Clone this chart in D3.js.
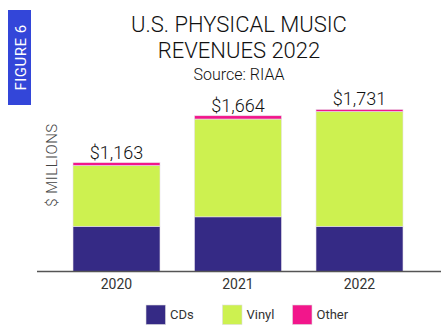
<!DOCTYPE html>
<html>
<head>
<meta charset="utf-8">
<script src="https://cdn.jsdelivr.net/npm/d3@7"></script>
<style>
  body { margin: 0; background: #fff; }
  svg { display: block; font-family: Roboto, "DejaVu Sans", sans-serif; }
</style>
</head>
<body>
<svg id="chart" width="445" height="332"></svg>
<script>
// revenue in $ millions, stacked bottom to top: CDs, Vinyl, Other
const years = ["2020", "2021", "2022"];
const cds = [483, 584, 483];
const vinyl = [650, 1045, 1227];
const other = [30, 35, 21];
const totals = [1163, 1664, 1731];
const seriesNames = ["CDs", "Vinyl", "Other"];

const colors = { CDs: "#352a85", Vinyl: "#cdf150", Other: "#f2168b" };

const rows = years.map((y, i) => ({ year: y, CDs: cds[i], Vinyl: vinyl[i], Other: other[i], total: totals[i] }));

const svg = d3.select("#chart");

const x = d3.scaleBand()
    .domain(years)
    .range([55.75, 420.25])
    .paddingInner(0.284)
    .paddingOuter(0.142);

const y = d3.scaleLinear()
    .domain([0, 2000])
    .range([271.5, 84.3]);

// side tab
svg.append("rect")
    .attr("x", 8).attr("y", 10)
    .attr("width", 23).attr("height", 95)
    .attr("fill", "#3346d9");
svg.append("text")
    .attr("transform", "translate(25.5,57.5) rotate(-90)")
    .attr("text-anchor", "middle")
    .attr("fill", "#fff")
    .attr("font-size", 15)
    .attr("letter-spacing", 0.5)
    .text("FIGURE 6");

// title
const title = svg.append("g")
    .attr("fill", "#111")
    .attr("font-weight", 300)
    .attr("text-anchor", "middle");
title.append("text").attr("x", 239).attr("y", 32).attr("font-size", 22).text("U.S. PHYSICAL MUSIC");
title.append("text").attr("x", 239).attr("y", 58).attr("font-size", 22).text("REVENUES 2022");
title.append("text").attr("x", 239).attr("y", 80).attr("font-size", 16).text("Source: RIAA");

// stacked bars
const stack = d3.stack().keys(seriesNames)(rows);

svg.append("g")
  .selectAll("g")
  .data(stack)
  .join("g")
    .attr("fill", d => colors[d.key])
  .selectAll("rect")
  .data(d => d)
  .join("rect")
    .attr("x", d => x(d.data.year))
    .attr("width", x.bandwidth())
    .attr("y", d => y(d[1]))
    .attr("height", d => y(d[0]) - y(d[1]))
    .attr("stroke", "#e6e0ec")
    .attr("stroke-width", 0.6);

// totals above bars
svg.append("g")
  .selectAll("text")
  .data(rows)
  .join("text")
    .attr("x", d => x(d.year) + x.bandwidth() / 2)
    .attr("y", d => y(d.total) - 4)
    .attr("text-anchor", "middle")
    .attr("font-size", 18)
    .attr("font-weight", 300)
    .attr("fill", "#111")
    .text(d => d3.format("$,")(d.total));

// baseline + year labels
svg.append("line")
    .attr("x1", 37).attr("x2", 441)
    .attr("y1", y(0)).attr("y2", y(0))
    .attr("stroke", "#555")
    .attr("stroke-width", 1.5);

svg.append("g")
  .selectAll("text")
  .data(years)
  .join("text")
    .attr("x", d => x(d) + x.bandwidth() / 2)
    .attr("y", 288.5)
    .attr("text-anchor", "middle")
    .attr("font-size", 14)
    .attr("fill", "#333")
    .text(d => d);

// y axis title
svg.append("text")
    .attr("transform", "translate(57,165) rotate(-90)")
    .attr("text-anchor", "middle")
    .attr("font-size", 15)
    .attr("font-weight", 300)
    .attr("fill", "#444")
    .attr("letter-spacing", 0.5)
    .text("$ MILLIONS");

// legend
const legendX = [146, 222.5, 292.5];
const legend = svg.append("g")
  .selectAll("g")
  .data(seriesNames)
  .join("g")
    .attr("transform", (d, i) => `translate(${legendX[i]},305)`);
legend.append("rect")
    .attr("width", 19.5).attr("height", 19.5)
    .attr("fill", d => colors[d])
    .attr("stroke", "#ddd")
    .attr("stroke-width", 0.6);
legend.append("text")
    .attr("x", 24).attr("y", 14)
    .attr("font-size", 13)
    .attr("fill", "#333")
    .text(d => d);
</script>
</body>
</html>
